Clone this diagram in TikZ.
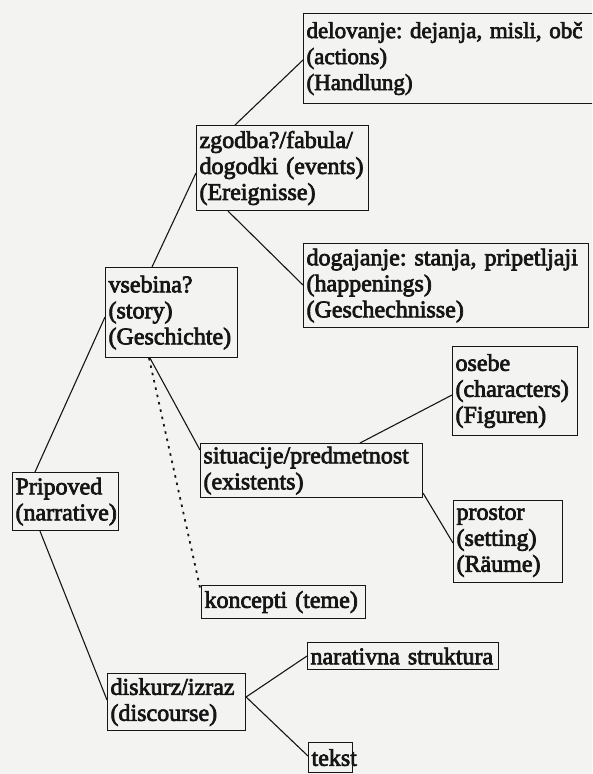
\documentclass[tikz,border=0pt]{standalone}
\usepackage{fontspec}
\newfontfamily\scanfont{Liberation Serif}[FakeBold=3]
\frenchspacing
\usetikzlibrary{positioning}
\definecolor{paper}{RGB}{243,243,241}
\definecolor{ink}{RGB}{22,22,22}
\tikzstyle{box} = [draw=ink, line width=1.1pt, rectangle, anchor=north west, align=left, inner xsep=3pt, inner ysep=2pt, text=ink, font=\scanfont\fontsize{24}{26}\selectfont]
\tikzstyle{link} = [draw=ink, line width=1.1pt]
\tikzstyle{dotlink} = [draw=ink, line width=1.8pt, dash pattern=on 2.5pt off 5pt]

\begin{document}
\begin{tikzpicture}[x=1pt, y=-1pt]

\fill [paper] (0,0) rectangle (592,774);
\useasboundingbox (0,0) rectangle (592,774);
\clip (0,0) rectangle (592,774);

% story side
\node [box, text width=330pt, minimum height=90pt, font=\scanfont\fontsize{23}{26}\selectfont] (del) at (303,13) {delovanje: dejanja, misli, obč\\(actions)\\(Handlung)};
\node [box, text width=166pt, minimum height=85pt] (zgo) at (196,125) {zgodba?/fabula/\\dogodki (events)\\(Ereignisse)};
\node [box, text width=279pt, minimum height=84pt] (dog) at (303,243) {dogajanje: stanja, pripetljaji\\(happenings)\\(Geschechnisse)};
\node [box, text width=126pt, minimum height=90pt] (vse) at (105,267) {vsebina?\\(story)\\(Geschichte)};
\node [box, text width=119pt, minimum height=89pt] (ose) at (452,346) {osebe\\(characters)\\(Figuren)};
\node [box, text width=216pt, minimum height=54pt] (sit) at (200,443) {situacije/predmetnost\\(existents)};
\node [box, text width=103pt, minimum height=82pt] (pro) at (453,500) {prostor\\(setting)\\(Räume)};
\node [box, text width=158pt, minimum height=33pt] (kon) at (201,585) {koncepti (teme)};

% root
\node [box, text width=100pt, minimum height=58pt] (pri) at (12,472) {Pripoved\\(narrative)};

% discourse side
\node [box, text width=132pt, minimum height=57pt] (dis) at (107,673) {diskurz/izraz\\(discourse)};
\node [box, text width=185pt, minimum height=27pt] (nar) at (307,642) {narativna struktura};
\node [box, text width=38pt, minimum height=30pt] (tek) at (308,742) {tekst};

\draw [link] ([xshift=23pt]pri.north west) -- ([yshift=-50pt]vse.north west);
\draw [link] ([xshift=28pt]pri.south west) -- ([yshift=-27pt]dis.north west);

\draw [link] ([xshift=47pt]vse.north west) -- ([yshift=-48pt]zgo.north west);
\draw [link] ([xshift=39pt]zgo.north west) -- ([yshift=-47pt]del.north west);
\draw [link] ([xshift=32pt]zgo.south west) -- ([yshift=-42pt]dog.north west);

\draw [link] ([xshift=45pt]vse.south west) -- ([yshift=-7pt]sit.north west);
\draw [dotlink] ([xshift=44pt]vse.south west) -- ([yshift=-7pt]kon.north west);
\draw [link] ([xshift=160pt]sit.north west) -- ([yshift=-49pt]ose.north west);
\draw [link] ([yshift=5pt]sit.south east) -- ([yshift=-43pt]pro.north west);

\draw [link] ([yshift=-24pt]dis.north east) -- ([yshift=-14pt]nar.north west);
\draw [link] ([yshift=-24pt]dis.north east) -- ([yshift=-14pt]tek.north west);

\end{tikzpicture}
\end{document}
